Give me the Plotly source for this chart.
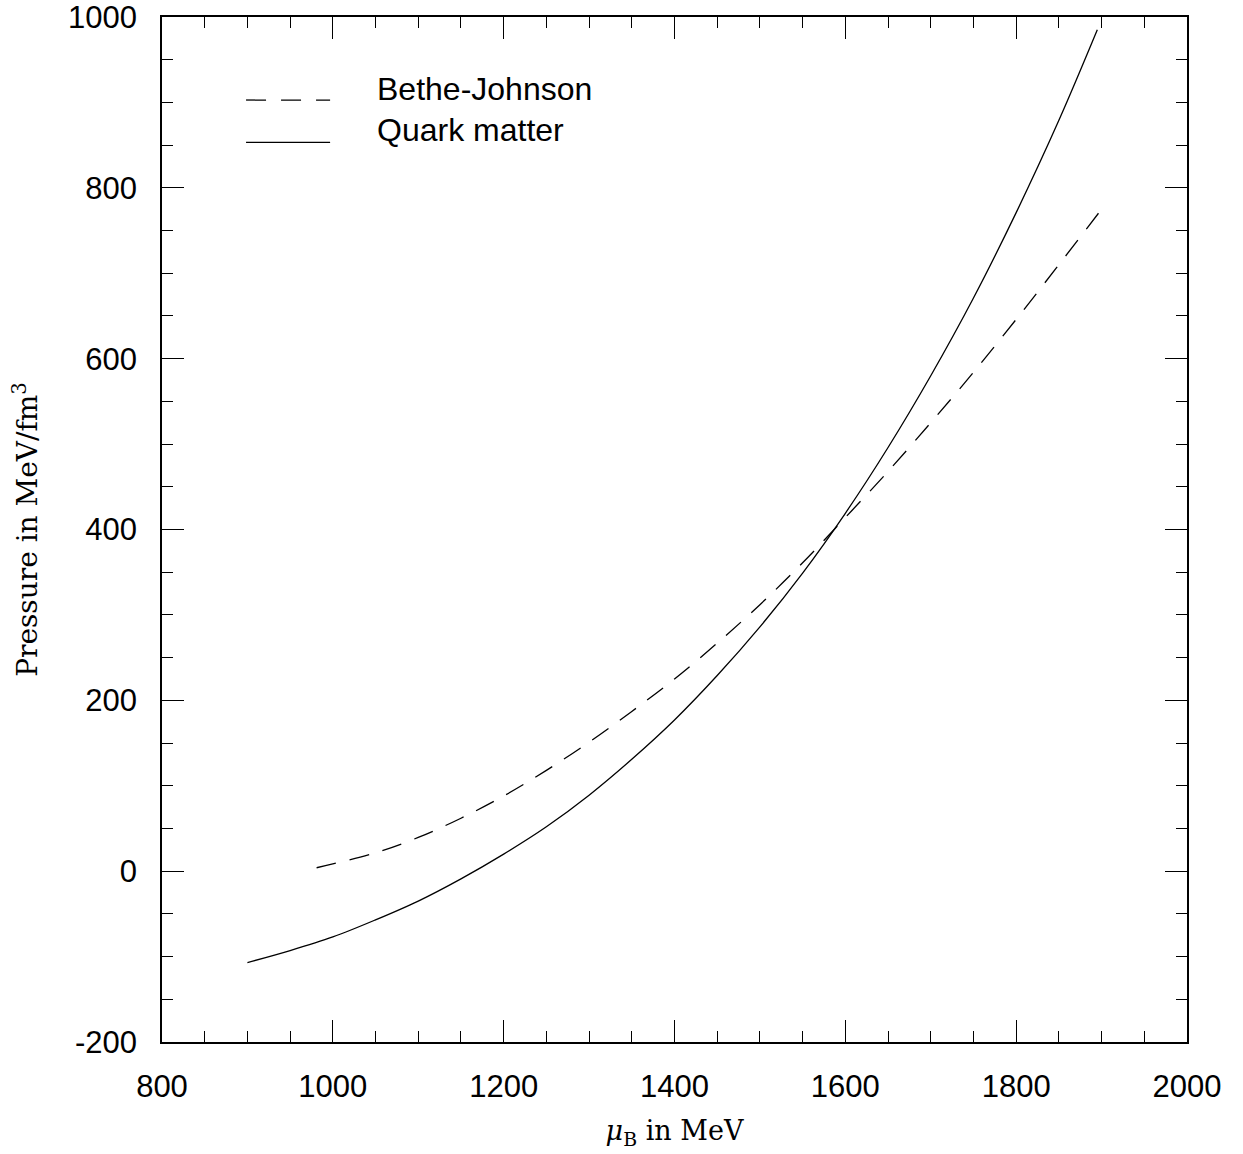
import plotly.graph_objects as go

# Quark matter (solid)
mu_qm = [900, 950, 1000, 1050, 1100, 1150, 1200, 1250, 1300, 1350, 1400, 1450,
         1500, 1550, 1600, 1650, 1700, 1750, 1800, 1850, 1895]
p_qm = [-107, -93, -77, -57, -35, -9, 20, 52, 89, 131, 177, 229,
        286, 349, 419, 496, 580, 671, 771, 879, 985]

# Bethe-Johnson (dashed)
mu_bj = [981, 1000, 1050, 1100, 1150, 1200, 1250, 1300, 1350, 1400, 1450, 1500,
         1550, 1600, 1650, 1700, 1750, 1800, 1850, 1900]
p_bj = [4, 8.5, 21.5, 39.5, 62, 88, 118, 151, 187, 225, 267, 312,
        361, 414, 468, 525, 584, 646, 710, 775]

x_tickvals = [800, 1000, 1200, 1400, 1600, 1800, 2000]
x_ticktext = ["800", "1000", "1200", "1400", "1600", "1800", "2000"]
y_tickvals = [-200, 0, 200, 400, 600, 800, 1000]
y_ticktext = ["-200", "0", "200", "400", "600", "800", "1000"]

series_names = ["Bethe-Johnson", "Quark matter"]

SANS = "Liberation Sans, Arial, sans-serif"
SERIF = "DejaVu Serif, Liberation Serif, serif"

fig = go.Figure()
fig.add_trace(go.Scatter(x=mu_bj, y=p_bj, mode="lines", name=series_names[0],
                         line=dict(color="black", width=1.3, dash="20px,14px", shape="spline")))
fig.add_trace(go.Scatter(x=mu_qm, y=p_qm, mode="lines", name=series_names[1],
                         line=dict(color="black", width=1.3, shape="spline")))

axis_common = dict(
    showgrid=False, zeroline=False, showline=True, linecolor="black", linewidth=1.5,
    mirror="ticks", ticks="inside", ticklen=22, tickwidth=1.2, tickcolor="black",
    tickfont=dict(family=SANS, size=31, color="black"), ticklabeloverflow="allow",
    automargin=False,
)

fig.update_xaxes(**axis_common, range=[800, 2000], tickmode="array",
                 tickvals=x_tickvals, ticktext=x_ticktext, ticklabelstandoff=16,
                 minor=dict(ticks="inside", ticklen=11, tickwidth=1.2, tickcolor="black",
                            tick0=800, dtick=50),
                 title=dict(text="<i>μ</i><sub>B</sub> in MeV", standoff=18,
                            font=dict(family=SERIF, size=27, color="black")))
fig.update_yaxes(**axis_common, range=[-200, 1000], tickmode="array",
                 tickvals=y_tickvals, ticktext=y_ticktext, ticklabelstandoff=17,
                 minor=dict(ticks="inside", ticklen=11, tickwidth=1.2, tickcolor="black",
                            tick0=-200, dtick=50),
                 title=dict(text="Pressure in MeV/fm<sup>3</sup>", standoff=22,
                            font=dict(family=SERIF, size=28, color="black")))

# Manual legend
fig.add_shape(type="line", xref="paper", yref="paper", x0=0.082, x1=0.164, y0=0.919, y1=0.919,
              line=dict(color="black", width=1.3, dash="20px,15px"))
fig.add_shape(type="line", xref="paper", yref="paper", x0=0.082, x1=0.164, y0=0.8776, y1=0.8776,
              line=dict(color="black", width=1.3))
fig.add_annotation(xref="paper", yref="paper", x=0.2075, y=0.9298, text=series_names[0],
                   showarrow=False, xanchor="left", yanchor="middle",
                   font=dict(family=SANS, size=32, color="black"))
fig.add_annotation(xref="paper", yref="paper", x=0.2075, y=0.8898, text=series_names[1],
                   showarrow=False, xanchor="left", yanchor="middle",
                   font=dict(family=SANS, size=32, color="black"))

fig.update_layout(
    width=1243, height=1154, showlegend=False,
    paper_bgcolor="white", plot_bgcolor="white",
    margin=dict(l=162, r=56, t=17, b=112),
)

fig.write_html("out.html")
